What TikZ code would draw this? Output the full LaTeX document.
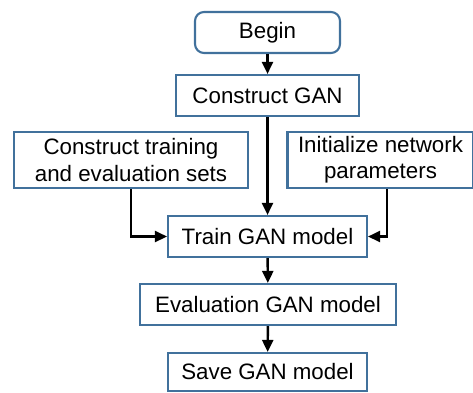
\documentclass[tikz,border=0pt]{standalone}
\usepackage{fontspec}
\setmainfont{Liberation Sans}
\usetikzlibrary{arrows.meta,positioning}
\tikzset{
    stepbox/.style={rectangle, draw=boxblue, line width=1.2pt, fill=white, inner sep=0pt,
        minimum height=0.82cm, align=center, font=\fontsize{12.7}{15}\selectfont},
    startbox/.style={stepbox, rounded corners=0.18cm},
    flow/.style={draw=black, line width=1.4pt, -{Triangle[length=2.4mm,width=2.2mm]}}
}
\definecolor{boxblue}{RGB}{65,113,156}

\begin{document}
\begin{tikzpicture}
  [
    x = 0.02cm,
    y = -0.02cm,
  ]
  \useasboundingbox (0,0) rectangle (473,392);
  \node [startbox, minimum width=2.9cm]  (begin) at (267.5,32.5) {Begin};
  \node [stepbox, minimum width=3.66cm] (build) at (267.5,95.5) {Construct GAN};
  \node [stepbox, minimum width=4.68cm, minimum height=1.12cm] (sets) at (131,160)
    {Construct training\\and evaluation sets};
  \node [stepbox, minimum width=3.72cm, minimum height=1.12cm] (init) at (380.5,160)
    {Initialize network\\parameters};
  \node [stepbox, minimum width=3.98cm] (train) at (267.5,236.5) {Train GAN model};
  \node [stepbox, minimum width=5.12cm] (eval) at (268,304.5) {Evaluation GAN model};
  \node [stepbox, minimum width=3.98cm, minimum height=0.76cm] (save) at (267.5,372) {Save GAN model};

  \draw [flow] (begin) -- (build);
  \draw [flow] (build) -- (train);
  \draw [flow] (sets.south) |- (train.west);
  \draw [flow] ([xshift=0.13cm]init.south) |- (train.east);
  \draw [flow] (train) -- (eval);
  \draw [flow] (eval) -- (save);
\end{tikzpicture}
\end{document}
